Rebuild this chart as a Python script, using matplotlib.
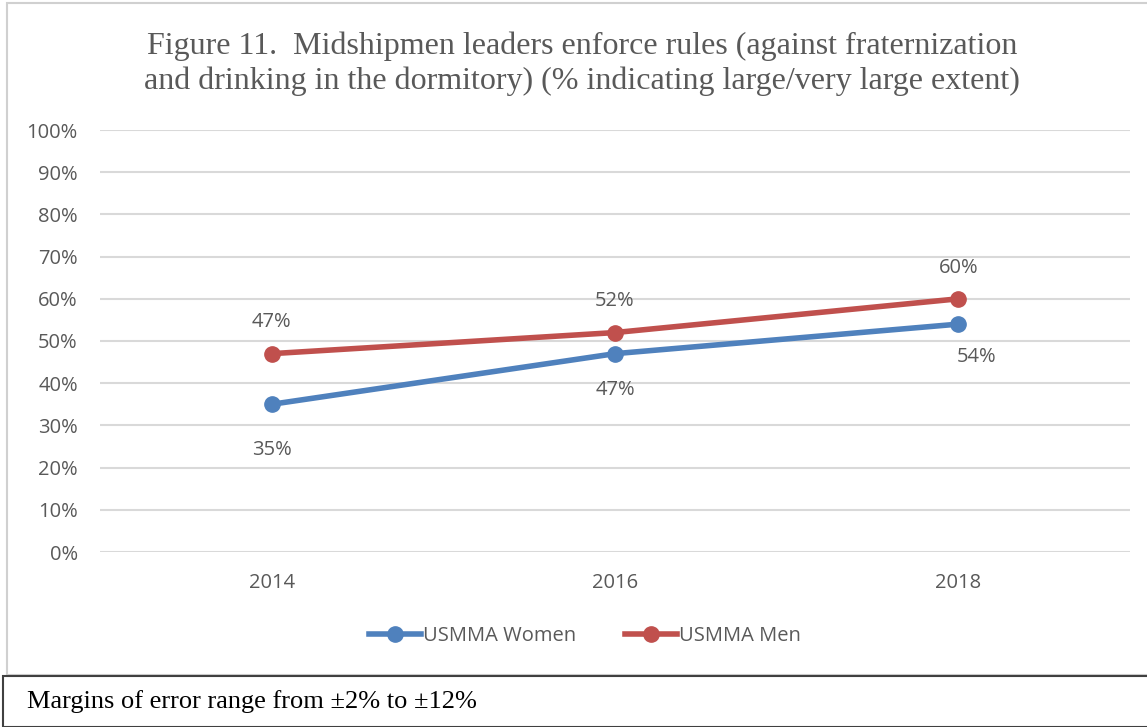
import matplotlib.pyplot as plt
from matplotlib.patches import Rectangle
from matplotlib.ticker import FuncFormatter

years = ["2014", "2016", "2018"]
women = [35, 47, 54]
men = [47, 52, 60]
yticks = list(range(0, 101, 10))

W, H = 1147, 727
BLUE = "#4F81BD"
RED = "#C0504D"
GRID = "#D9D9D9"
TXT = "#595959"
SANS = ["Open Sans", "DejaVu Sans"]
SERIF = ["Liberation Serif", "DejaVu Serif"]
FS = 14.5

fig = plt.figure(figsize=(W / 100, H / 100), dpi=100)


def fx(px):
    return px / W


def fy(py):
    return 1 - py / H


# chart border and footer box
fig.patches.append(Rectangle((fx(7), fy(675)), fx(1150) - fx(7), fy(3) - fy(675),
                             transform=fig.transFigure, fill=False, ec="#D0D0D0", lw=1.5))
fig.patches.append(Rectangle((fx(3), fy(727)), fx(1150) - fx(3), fy(676) - fy(727),
                             transform=fig.transFigure, fill=False, ec="#404040", lw=1.5))

fig.text(fx(582), fy(46), "Figure 11.  Midshipmen leaders enforce rules (against fraternization",
         ha="center", va="center", fontsize=23, color=TXT, family=SERIF)
fig.text(fx(582), fy(81), "and drinking in the dormitory) (% indicating large/very large extent)",
         ha="center", va="center", fontsize=23, color=TXT, family=SERIF)
fig.text(fx(27), fy(702), "Margins of error range from \u00b12% to \u00b112%",
         ha="left", va="center", fontsize=19, color="black", family=SERIF)

ax = fig.add_axes([fx(100), fy(552), fx(1130) - fx(100), fy(130) - fy(552)])
x = list(range(len(years)))
ax.plot(x, women, color=BLUE, lw=4, marker="o", ms=11, label="USMMA Women", zorder=3)
ax.plot(x, men, color=RED, lw=4, marker="o", ms=11, label="USMMA Men", zorder=3)

ax.set_xlim(-0.5, len(years) - 0.5)
ax.set_ylim(0, 100)
ax.set_yticks(yticks)
ax.yaxis.set_major_formatter(FuncFormatter(lambda v, p: f"{v:.0f}%"))
ax.set_xticks(x)
ax.set_xticklabels(years)
ax.grid(axis="y", color=GRID, lw=1.5)
ax.set_axisbelow(True)
for s in ax.spines.values():
    s.set_visible(False)
ax.tick_params(length=0, labelsize=FS, labelcolor=TXT)
ax.tick_params(axis="y", pad=16)
ax.tick_params(axis="x", pad=15)
for lab in ax.get_xticklabels() + ax.get_yticklabels():
    lab.set_family(SANS)

# data labels (offsets in points)
men_off = [(0, 23), (0, 23), (0, 22)]
women_off = [(0, -33), (0, -26), (13, -24)]
for i, v in enumerate(men):
    ax.annotate(f"{v}%", (i, v), xytext=men_off[i], textcoords="offset points",
                ha="center", va="center", fontsize=FS, color=TXT, family=SANS)
for i, v in enumerate(women):
    ax.annotate(f"{v}%", (i, v), xytext=women_off[i], textcoords="offset points",
                ha="center", va="center", fontsize=FS, color=TXT, family=SANS)

leg = fig.legend(loc="center", bbox_to_anchor=(fx(585), fy(636)), ncol=2, frameon=False,
                 prop={"family": SANS, "size": FS}, handlelength=2.6, columnspacing=2.4,
                 handletextpad=0.1)
for t in leg.get_texts():
    t.set_color(TXT)

fig.savefig("out.png", dpi=100)
